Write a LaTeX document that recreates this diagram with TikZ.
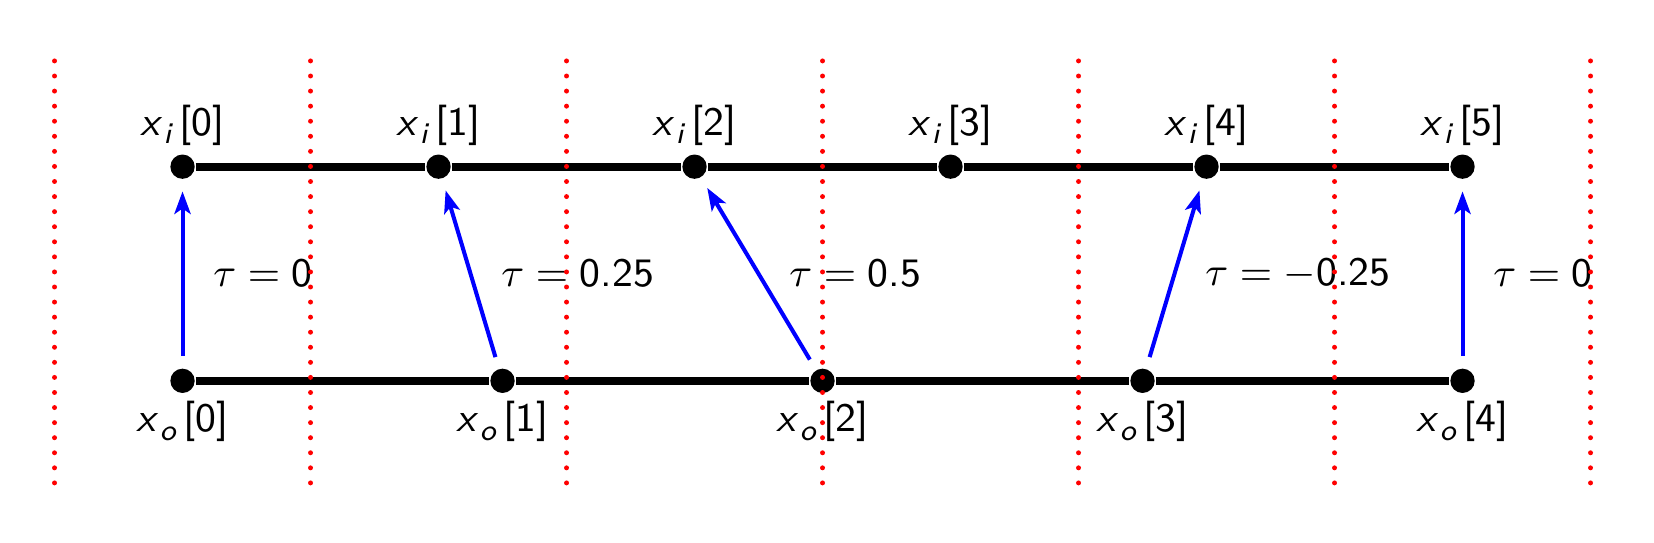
\documentclass[tikz,border=0pt]{standalone}
\usetikzlibrary{arrows.meta}
\newcommand{\smpl}[2]{\textsf{\textit{x}\kern0.2pt\raisebox{-0.45ex}{\fontsize{6.6}{7}\selectfont\textit{#1}}\kern1.4pt[#2]}}
\tikzset{
  sampledot/.style={circle,fill=black,inner sep=0pt,minimum size=0.19cm},
  rowline/.style={line width=1.8pt},
  delayarrow/.style={blue,line width=0.9pt,-{Stealth[length=5pt,width=3.6pt,inset=1.2pt]},shorten >=2.6pt,shorten <=2.6pt},
  boundline/.style={red,line width=1.1pt,line cap=round,dash pattern=on 0pt off 3.35pt},
  lbl/.style={font=\fontsize{9}{11}\selectfont,inner sep=1pt,text=black},
  taulbl/.style={lbl,anchor=west,xshift=0.19cm}
}
\begin{document}
\begin{tikzpicture}
\useasboundingbox (0,0) rectangle (12.922,4.242);
% input samples
\foreach \k in {0,...,5}{
  \node[sampledot] (i\k) at ({1.426+2*\k},2.940) {};
  \node[lbl,above=0.12cm] (li\k) at (i\k) {\smpl{i}{\k}};
}
% output samples
\foreach \k in {0,...,4}{
  \node[sampledot] (o\k) at ({1.426+2.5*\k},1.267) {};
  \node[lbl,below=0.12cm] (lo\k) at (o\k) {\smpl{o}{\k}};
}
\draw[rowline] (i0) -- (i1) -- (i2) -- (i3) -- (i4) -- (i5);
\draw[rowline] (o0) -- (o1) -- (o2) -- (o3) -- (o4);
% shifts
\draw[delayarrow] (o0) -- node[taulbl,pos=0.5] {$\tau = \textsf{0}$} (i0);
\draw[delayarrow] (o1) -- node[taulbl,pos=0.5] {$\tau = \textsf{0.25}$} (i1);
\draw[delayarrow] (o2) -- node[taulbl,pos=0.5] {$\tau = \textsf{0.5}$} (i2);
\draw[delayarrow] (o3) -- node[taulbl,pos=0.5] {$\tau = -\textsf{0.25}$} (i4);
\draw[delayarrow] (o4) -- node[taulbl,pos=0.5] {$\tau = \textsf{0}$} (i5);
% boundaries
\foreach \k in {0,...,6}{
  \coordinate (gt\k) at ({0.426+2*\k},3.766);
  \coordinate (gb\k) at ({0.426+2*\k},0.430);
  \draw[boundline] (gt\k) -- (gb\k);
}
\end{tikzpicture}
\end{document}
